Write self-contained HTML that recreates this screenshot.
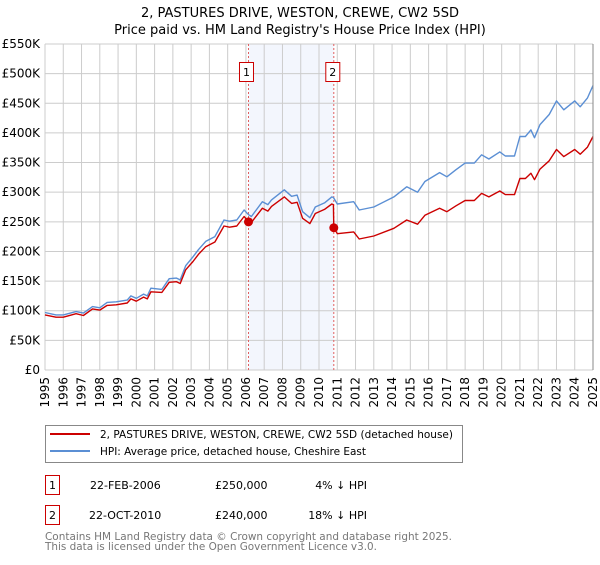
<!DOCTYPE html>
<html><head><meta charset="utf-8"><style>
body{margin:0;background:#fff;font-family:"Liberation Sans","DejaVu Sans",sans-serif;}
svg text{font-family:"DejaVu Sans","Liberation Sans",sans-serif;}
</style></head><body>
<svg id="chart" width="600" height="560" xmlns="http://www.w3.org/2000/svg">
<text x="300" y="17" text-anchor="middle" font-size="13">2, PASTURES DRIVE, WESTON, CREWE, CW2 5SD</text>
<text x="300" y="34" text-anchor="middle" font-size="13">Price paid vs. HM Land Registry's House Price Index (HPI)</text>
<g id="grid"></g><g id="marks"></g><g id="axes"></g>
<g>
<rect x="45.5" y="425.5" width="417" height="37" fill="#fff" stroke="#888"/>
<line x1="50" y1="434" x2="90" y2="434" stroke="#cc0000" stroke-width="2"/>
<text x="100" y="438" font-size="11" textLength="353" lengthAdjust="spacingAndGlyphs">2, PASTURES DRIVE, WESTON, CREWE, CW2 5SD (detached house)</text>
<line x1="50" y1="451" x2="90" y2="451" stroke="#5b8fd4" stroke-width="2"/>
<text x="100" y="455" font-size="11" textLength="266" lengthAdjust="spacingAndGlyphs">HPI: Average price, detached house, Cheshire East</text>
</g>
<g font-size="11">
<rect x="45.5" y="475.5" width="14" height="19" fill="#fff" stroke="#cc0000"/>
<text x="52.5" y="489" text-anchor="middle">1</text>
<text x="90" y="489">22-FEB-2006</text><text x="215" y="489">£250,000</text><text x="367" y="489" text-anchor="end">4% ↓ HPI</text>
</g>
<g font-size="11">
<rect x="45.5" y="505.5" width="14" height="19" fill="#fff" stroke="#cc0000"/>
<text x="52.5" y="519" text-anchor="middle">2</text>
<text x="89" y="519">22-OCT-2010</text><text x="215" y="519">£240,000</text><text x="367" y="519" text-anchor="end">18% ↓ HPI</text>
</g>
<text x="45" y="540" font-size="11" fill="#777" textLength="407" lengthAdjust="spacingAndGlyphs">Contains HM Land Registry data © Crown copyright and database right 2025.</text>
<text x="45" y="550" font-size="11" fill="#777" textLength="332" lengthAdjust="spacingAndGlyphs">This data is licensed under the Open Government Licence v3.0.</text>
</svg>
<script>
const dates=[1995.0,1995.6,1996.0,1996.7,1997.1,1997.6,1998.0,1998.4,1998.9,1999.5,1999.7,2000.0,2000.4,2000.6,2000.8,2001.4,2001.8,2002.2,2002.4,2002.7,2003.1,2003.4,2003.8,2004.3,2004.8,2005.1,2005.5,2005.9,2006.14,2006.3,2006.9,2007.2,2007.4,2008.1,2008.5,2008.8,2009.1,2009.5,2009.8,2010.3,2010.7,2010.79,2010.81,2011.0,2011.9,2012.2,2013.0,2014.1,2014.8,2015.4,2015.8,2016.6,2017.0,2017.5,2018.0,2018.5,2018.9,2019.3,2019.9,2020.2,2020.7,2021.0,2021.3,2021.6,2021.8,2022.1,2022.6,2023.0,2023.4,2024.0,2024.3,2024.7,2025.0];
const hpiValues=[97,93,93,98.5,96,107,105,114,115,118,125,121,128,125,138,136,154,155,152,176,191,203,217,225,253,251,253,270,262,259,284,279,287,304,293,295,267,257,275,282,292,291,290,280,284,270,275,292,309,300,318,333,326,338,349,349,363,356,368,361,361,394,394,405,392,414,431,454,439,454,444,459,480];
const propertyValues=[93,89,89,95,92,103,101,109,110,113,120,116,123,120,132,131,148,149,146,169,183,195,208,216,243,241,243,259,250,249,273,268,276,292,281,283,256,247,264,271,280,279,240,230,233,221,226,239,253,246,261,273,267,277,286,286,298,292,302,296,296,323,323,332,321,339,353,372,360,372,364,376,394];
const saleDates=[2006.14,2010.81];
const salePrices=[250,240];
const yTicks=[0,50,100,150,200,250,300,350,400,450,500,550];
const yTickLabels=["£0","£50K","£100K","£150K","£200K","£250K","£300K","£350K","£400K","£450K","£500K","£550K"];
const xTicks=[1995,1996,1997,1998,1999,2000,2001,2002,2003,2004,2005,2006,2007,2008,2009,2010,2011,2012,2013,2014,2015,2016,2017,2018,2019,2020,2021,2022,2023,2024,2025];

const L=45,R=593,T=44,B=370;
const xs=t=>L+(t-1995)/30*(R-L);
const ys=v=>B-v/550*(B-T);
const NS="http://www.w3.org/2000/svg";
function mk(parent,tag,attrs){const e=document.createElementNS(NS,tag);for(const k in attrs)e.setAttribute(k,attrs[k]);parent.appendChild(e);return e;}
const grid=document.getElementById('grid'),marks=document.getElementById('marks'),axes=document.getElementById('axes');
const band=mk(grid,'rect',{x:xs(saleDates[0]),y:T,width:xs(saleDates[1])-xs(saleDates[0]),height:B-T,fill:'#f3f6fd'});


yTicks.forEach((v,i)=>{
  const g=mk(grid,'line',{x1:L,x2:R,y1:ys(v),y2:ys(v),stroke:'#cccccc','stroke-width':1});
  
  
  const t=mk(axes,'text',{x:L-5,y:ys(v)+4,'text-anchor':'end','font-size':12});
  
  
  t.textContent=yTickLabels[i];
});
xTicks.forEach(yr=>{
  const g=mk(grid,'line',{x1:xs(yr),x2:xs(yr),y1:T,y2:B,stroke:'#cccccc','stroke-width':1});
  
  
  const x=xs(yr)+4,y=377;
  const t=mk(axes,'text',{x:x,y:y,'text-anchor':'end','font-size':12,transform:`rotate(-90 ${x} ${y})`});
  
  
  t.textContent=yr;
});
const edge=mk(axes,'line',{x1:R,x2:R,y1:T,y2:B,stroke:'#888','stroke-width':1});


saleDates.forEach((d,i)=>{
  const l=mk(marks,'line',{x1:xs(d),x2:xs(d),y1:T,y2:B,stroke:'#e06060','stroke-width':1,'stroke-dasharray':'2,2'});
  
  
});
function path(vals,color,name){
  const d=dates.map((t,i)=>(i?'L':'M')+xs(t).toFixed(1)+','+ys(vals[i]).toFixed(1)).join('');
  const p=mk(marks,'path',{d:d,fill:'none',stroke:color,'stroke-width':1.4,'stroke-linejoin':'round'});
  
  
}
path(hpiValues,'#5b8fd4','hpi-line');
path(propertyValues,'#cc0000','property-price-line');
saleDates.forEach((d,i)=>{
  const c=mk(marks,'circle',{cx:xs(d),cy:ys(salePrices[i]),r:4.5,fill:'#cc0000'});
  
  
  const bx=xs(d)-(i==0?9:8);
  const r=mk(marks,'rect',{x:bx,y:62.5,width:14,height:19,fill:'#fff',stroke:'#cc0000'});
  
  
  const t=mk(marks,'text',{x:bx+7,y:76,'text-anchor':'middle','font-size':11});
  
  
  t.textContent=String(i+1);
});
</script>
</body></html>
